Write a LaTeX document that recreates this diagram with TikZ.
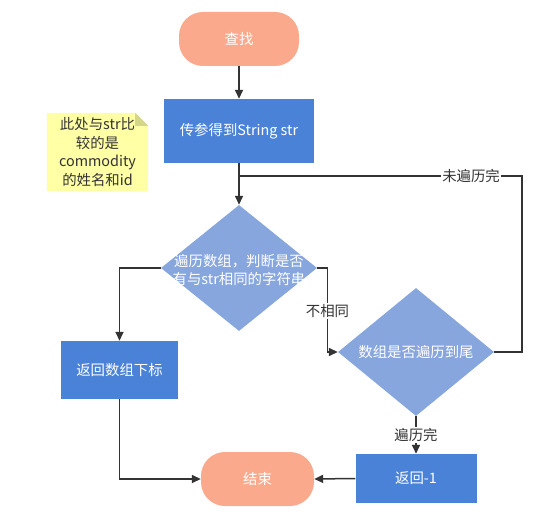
\documentclass[tikz,border=0pt]{standalone}
\usepackage{fontspec}
\setmainfont{Noto Sans CJK SC}
\usetikzlibrary{arrows.meta,shapes.geometric,calc}
\definecolor{termc}{HTML}{FBA98C}
\definecolor{procc}{HTML}{4A82D8}
\definecolor{decc}{HTML}{87A6DE}
\definecolor{notec}{HTML}{FFFFA6}
\definecolor{foldc}{HTML}{D6D68A}
\definecolor{linec}{HTML}{333333}
\tikzset{
  basefont/.style={font=\fontsize{14.4}{17.5}\selectfont},
  term/.style={rectangle, rounded corners=24pt, fill=termc, text=white, inner sep=0pt, basefont},
  proc/.style={rectangle, fill=procc, text=white, inner sep=0pt, basefont},
  dec/.style={diamond, fill=decc, inner sep=0pt, minimum width=156pt},
  dectext/.style={text=white, align=center, inner sep=0pt, basefont},
  notetext/.style={text=linec, align=center, inner sep=0pt, basefont},
  wire/.style={draw=linec, line width=1.5pt},
  conn/.style={wire, -{Triangle[length=9pt,width=8pt]}},
  lbl/.style={fill=white, text=linec, inner sep=1pt, basefont},
}
\begin{document}
\begin{tikzpicture}[x=1pt,y=1pt]
\useasboundingbox (0,0) rectangle (553,-521);
% nodes
\node[term, minimum width=120pt, minimum height=54pt] (start) at (239,-39) {查找};
\node[proc, minimum width=150pt, minimum height=64pt] (proc) at (239,-131) {传参得到String str};
\node[dec, minimum height=126pt] (d1) at (239,-268) {};
\node[dectext] (d1t) at (239,-270) {遍历数组，判断是否\\有与str相同的字符串};
\node[dec, minimum height=128pt] (d2) at (416,-352) {};
\node[dectext] (d2t) at (416,-352) {数组是否遍历到尾};
\node[proc, minimum width=117pt, minimum height=58pt] (ret) at (119.5,-370) {返回数组下标};
\node[term, minimum width=113pt, minimum height=54pt] (end) at (257.5,-479) {结束};
\node[proc, minimum width=121pt, minimum height=49pt] (retm) at (416,-478.5) {返回-1};
% note
\node[minimum width=101pt, minimum height=78pt, inner sep=0pt] (note) at (97.5,-152) {};
\fill[notec] (note.north west) -- ($(note.north east)+(-13,0)$) -- ($(note.north east)+(0,-13)$) -- (note.south east) -- (note.south west) -- cycle;
\fill[foldc] ($(note.north east)+(-13,0)$) -- ($(note.north east)+(0,-13)$) -- ($(note.north east)+(-13,-13)$) -- cycle;
\node[notetext, font=\fontsize{14.4}{18.5}\selectfont] (notet) at (97.5,-152) {此处与str比\\较的是\\commodity\\的姓名和id};
% connectors
\coordinate (cJ) at (239,-176);
\coordinate (cR) at (522,-176);
\coordinate (cA) at (327.5,-268);
\draw[conn] (start) -- (proc);
\draw[conn] (proc) -- (d1);
\draw[wire] (d2.east) -| (cR) -- node[lbl, pos=0.18] {未遍历完} (cJ);
\draw[conn] (d1.west) -| (ret.north);
\draw[conn] (d1.east) -- (cA) |- (d2.west);
\node[lbl] (l2) at (327.5,-311) {不相同};
\draw[conn] (d2.south) -- node[lbl, pos=0.5] {遍历完} (retm.north);
\draw[conn] (ret.south) |- (end.west);
\draw[conn] (retm.west) -- (end.east);
\end{tikzpicture}
\end{document}
